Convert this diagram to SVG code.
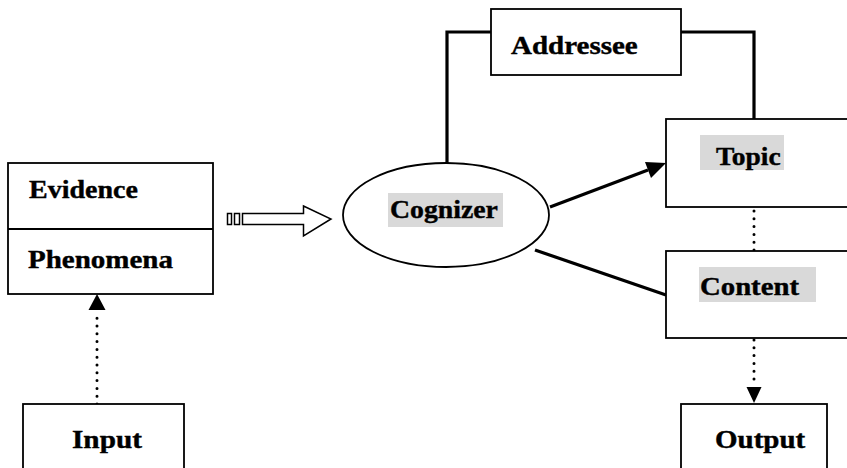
<svg xmlns="http://www.w3.org/2000/svg" width="847" height="468" viewBox="0 0 847 468">
<style>
.box{fill:#fff;stroke:#000;stroke-width:1.8}
.lbl{font-family:"Liberation Serif","Times New Roman",serif;font-weight:bold;font-size:25px;fill:#000;stroke:#000;stroke-width:0.4}
.hl{fill:#d9d9d9}
.thick{fill:none;stroke:#000;stroke-width:3.2}
.dot{fill:none;stroke:#000;stroke-width:3;stroke-linecap:round;stroke-dasharray:0 7.8}
</style>
<rect width="847" height="468" fill="#fff"/>

<g id="connectors">
<polyline class="thick" points="447,163 447,32 491,32"/>
<polyline class="thick" points="681,32 754,32 754,119"/>
<line class="thick" x1="550" y1="207" x2="648" y2="170"/>
<path d="M666,163 L645,162 L651,178 Z" fill="#000"/>
<line class="thick" x1="535" y1="250" x2="666" y2="295"/>
<line class="dot" x1="754" y1="211" x2="754" y2="251"/>
<line class="dot" x1="754" y1="340" x2="754" y2="386"/>
<path d="M754,403 L746.5,387 L761.5,387 Z" fill="#000"/>
<line class="dot" x1="97" y1="404" x2="97" y2="312"/>
<path d="M97,294 L88.5,310 L105.5,310 Z" fill="#000"/>
<rect x="227.5" y="213.5" width="4" height="11" fill="#fff" stroke="#000" stroke-width="1.5"/>
<rect x="234.5" y="213.5" width="5" height="11" fill="#fff" stroke="#000" stroke-width="1.5"/>
<path d="M242.5,213.5 L303.5,213.5 L303.5,206 L331,219 L303.5,236 L303.5,224.5 L242.5,224.5 Z" fill="#fff" stroke="#000" stroke-width="1.5"/>
</g>

<g id="evidence-phenomena">
<rect class="box" x="8" y="163" width="205" height="131"/>
<line x1="8" y1="229" x2="213" y2="229" stroke="#000" stroke-width="1.8"/>
<text class="lbl" transform="translate(29,198) scale(1.12,1)">Evidence</text>
<text class="lbl" transform="translate(28,268) scale(1.16,1)">Phenomena</text>
</g>

<g id="input">
<rect class="box" x="23" y="404" width="161" height="80"/>
<text class="lbl" transform="translate(72,448) scale(1.17,1)">Input</text>
</g>

<g id="addressee">
<rect class="box" x="491" y="9" width="190" height="66"/>
<text class="lbl" transform="translate(511,54) scale(1.16,1)">Addressee</text>
</g>

<g id="cognizer">
<ellipse cx="446" cy="215" rx="103" ry="52" fill="#fff" stroke="#000" stroke-width="1.8"/>
<rect class="hl" x="388" y="193" width="115" height="34"/>
<text class="lbl" transform="translate(390,218) scale(1.11,1)">Cognizer</text>
</g>

<g id="topic">
<rect class="box" x="666" y="119" width="200" height="88"/>
<rect class="hl" x="700" y="135" width="84" height="35"/>
<text class="lbl" transform="translate(716,165) scale(1.1,1)">Topic</text>
</g>

<g id="content">
<rect class="box" x="666" y="251" width="200" height="87"/>
<rect class="hl" x="699" y="267" width="117" height="35"/>
<text class="lbl" transform="translate(700,295) scale(1.15,1)">Content</text>
</g>

<g id="output">
<rect class="box" x="681" y="404" width="146" height="80"/>
<text class="lbl" transform="translate(715,448) scale(1.16,1)">Output</text>
</g>
</svg>
